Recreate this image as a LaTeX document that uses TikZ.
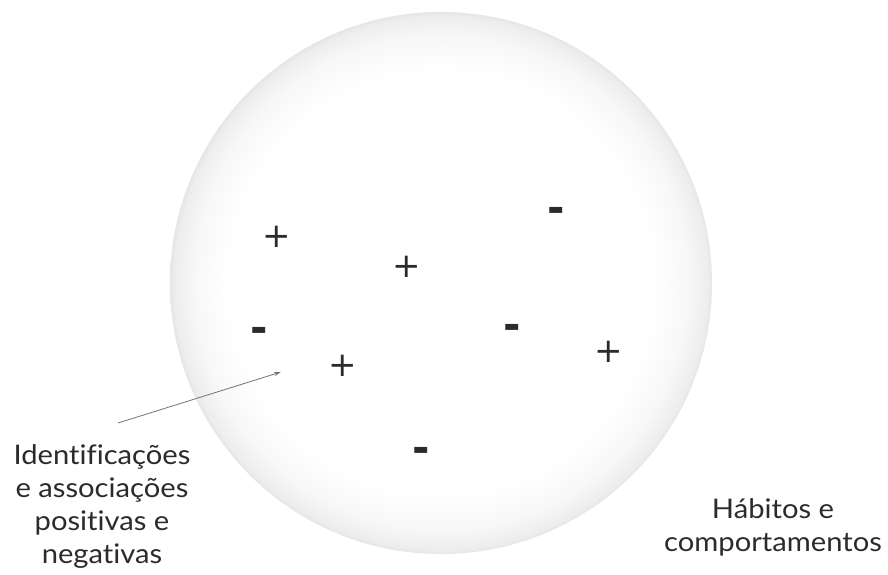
\documentclass[tikz,border=0pt]{standalone}
\usepackage{fontspec}
\setmainfont{Lato}[FakeStretch=1.08, Ligatures={NoCommon}]
\newfontfamily\signfont{DejaVu Sans}
\usetikzlibrary{arrows.meta}
\pgfdeclareradialshading{ballshade}{\pgfpoint{0bp}{0bp}}{%
  color(0bp)=(white); color(19.5bp)=(white); color(22.8bp)=(black!3);
  color(24.6bp)=(black!7); color(25bp)=(black!10); color(50bp)=(black!10)}
\definecolor{txt}{HTML}{2E2A2B}
\tikzset{
  plussign/.style={text=txt, inner sep=0pt, font=\signfont\fontsize{34}{34}\selectfont},
  minussign/.style={text=txt, inner sep=0pt, yshift=-5pt, font=\signfont\bfseries\fontsize{42}{42}\selectfont},
  lbl/.style={text=txt, align=center, inner sep=0pt, font=\fontsize{27}{33}\selectfont},
  pointer/.style={draw=black!55, line width=0.8pt, -{Stealth[length=7pt,width=4pt]}}
}
\begin{document}
\begin{tikzpicture}[x=1pt,y=-1pt]
\useasboundingbox (0,0) rectangle (888,575);
\fill[white] (0,0) rectangle (888,575);
\shade[shading=ballshade] (441,283) circle (271);
% signs
\node[plussign] (p1) at (277,237) {+};
\node[plussign] (p2) at (407,267) {+};
\node[plussign] (p3) at (343,366) {+};
\node[plussign] (p4) at (609,352) {+};
\node[minussign] (m1) at (556,210) {-};
\node[minussign] (m2) at (259,330) {-};
\node[minussign] (m3) at (512,327) {-};
\node[minussign] (m4) at (421,450) {-};
% labels
\node[lbl, anchor=north] (ident) at (102,444) {Identificações\\e associações\\positivas e\\negativas};
\node[lbl, anchor=north] (hab) at (773,498) {Hábitos e\\comportamentos};
\coordinate (a0) at (118,423);
\coordinate (a1) at (281,372);
\draw[pointer] (a0) -- (a1);
\end{tikzpicture}
\end{document}
